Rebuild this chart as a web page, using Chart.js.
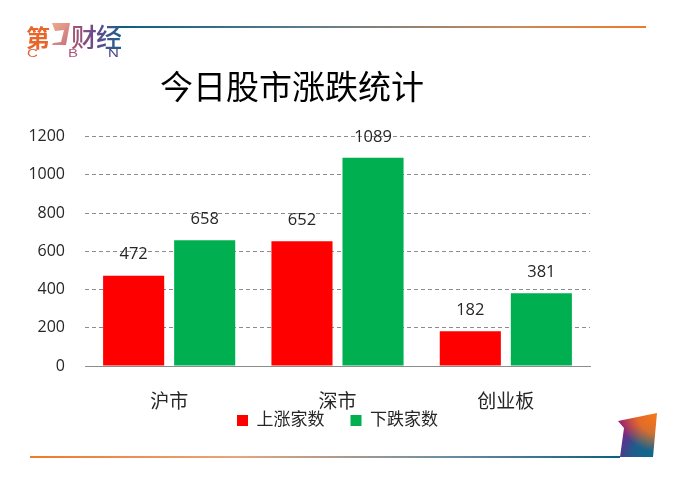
<!DOCTYPE html>
<html lang="zh"><head><meta charset="utf-8">
<style>
html,body{margin:0;padding:0;background:#fff;width:676px;height:479px;overflow:hidden}
#wrap{position:relative;width:676px;height:479px}
canvas{position:absolute;left:0;top:0}
.abs{position:absolute}
#topline{left:118px;top:26px;width:528px;height:2px;background:linear-gradient(90deg,#0d5f80,#5b7c8c 35%,#c98a5a 75%,#ee7a2a)}
#botline{left:30px;top:456px;width:590px;height:2px;background:linear-gradient(90deg,#ee7a2a,#e8a57c 35%,#6f8ea0 70%,#0d5f80)}
#corner{left:618px;top:413px;width:40px;height:45px;clip-path:polygon(0 8px,39px 0,35px 44px,2px 44px,6px 15px);
background:radial-gradient(circle at 100% 0,#f57a1a 0,rgba(245,122,26,.8) 35%,rgba(245,122,26,0) 65%),radial-gradient(circle at 85% 100%,#0b6a8c 0,rgba(11,106,140,.8) 35%,rgba(11,106,140,0) 65%),linear-gradient(180deg,#b5245a,#6a2a8c 60%,#5b2d8c)}
.lg{font-family:"Noto Sans CJK SC";line-height:1;white-space:nowrap}
#l1{left:26px;top:25px;font-size:24px;font-weight:700;color:#e8662a}
#l2{left:71px;top:23px;font-size:26px;font-weight:500;letter-spacing:-1px;color:transparent;-webkit-background-clip:text;background-clip:text;background-image:linear-gradient(90deg,#b0566e,#6a4a8c 45%,#1c5f88)}
#l3{left:27px;top:48px;width:100px;height:12px;font:400 10px "Liberation Sans"}
#l3 span{position:absolute;top:0;line-height:12px;transform:scaleX(1.5);transform-origin:0 50%}
#shape{left:51px;top:22px;width:20px;height:24px;clip-path:polygon(1px 1px,19px 1px,15px 23px,1px 23px,2px 21px,10px 20px,13px 8px,4px 9px);background:linear-gradient(135deg,#eeb08c,#c86a80)}
</style></head><body><div id="wrap">
<canvas id="c" width="676" height="479"></canvas>
<div class="abs" id="topline"></div><div class="abs" id="botline"></div><div class="abs" id="corner"></div>
<div class="abs lg" id="l1">第</div><div class="abs" id="shape"></div><div class="abs lg" id="l2">财经</div>
<div class="abs" id="l3"><span style="left:0;color:#e0603a">C</span><span style="left:41px;color:#b0567a">B</span><span style="left:81px;color:#4a3f8c">N</span></div>
</div>
<script src="https://cdn.jsdelivr.net/npm/chart.js@4/dist/chart.umd.min.js"></script>
<script>
const titleText = "今日股市涨跌统计";
const categories = ["沪市","深市","创业板"];
const seriesNames = ["上涨家数","下跌家数"];
const risers = [472,652,182];
const fallers = [658,1089,381];
const yTicks = [0,200,400,600,800,1000,1200];
const FONT = "'Open Sans','Noto Sans CJK SC',sans-serif";
const TEXT = "#262626";

const barLabels = {
  id:"barLabels",
  afterLayout(chart){ chart.legend.top -= 24; chart.legend.bottom -= 24; },
  afterDatasetsDraw(chart){
    const ctx = chart.ctx;
    ctx.save();
    ctx.font = "16.5px "+FONT; ctx.fillStyle = TEXT;
    ctx.textAlign = "center"; ctx.textBaseline = "middle";
    chart.data.datasets.forEach((ds,i)=>{
      chart.getDatasetMeta(i).data.forEach((bar,j)=>{
        ctx.fillText(ds.data[j], bar.x, bar.y-21);
      });
    });
    ctx.restore();
  }
};

new Chart(document.getElementById("c"),{
  type:"bar",
  data:{labels:categories,datasets:[
    {label:seriesNames[0],data:risers,backgroundColor:"#ff0000",categoryPercentage:0.844,barPercentage:0.86},
    {label:seriesNames[1],data:fallers,backgroundColor:"#00b050",categoryPercentage:0.844,barPercentage:0.86}
  ]},
  options:{
    responsive:false,animation:false,devicePixelRatio:1,
    layout:{padding:{left:-6,right:86,top:0,bottom:16}},
    plugins:{
      title:{display:true,text:titleText,color:"#000",align:"center",
        font:{family:"'Noto Sans CJK SC',serif",size:33,weight:"normal"},
        padding:{top:67,bottom:30}},
      legend:{position:"bottom",fullSize:false,
        labels:{boxWidth:11,boxHeight:11,color:TEXT,padding:26,font:{family:FONT,size:17}}},
      tooltip:{enabled:false}
    },
    scales:{
      x:{grid:{display:false},border:{display:true,color:"#8c8c8c",width:1},
        afterFit(s){s.height=44;},
        ticks:{color:TEXT,padding:17,font:{family:FONT,size:19},maxRotation:0}},
      y:{min:0,max:1200,
        afterFit(s){s.width=91;},
        afterBuildTicks(s){s.ticks=yTicks.map(v=>({value:v}));},
        grid:{color:"#8c8c8c",drawTicks:false,lineWidth:1},
        border:{display:false,dash:[4,3]},
        ticks:{color:TEXT,padding:20,font:{family:FONT,size:16},callback:v=>String(v)}}
    }
  },
  plugins:[barLabels]
});
</script></body></html>
